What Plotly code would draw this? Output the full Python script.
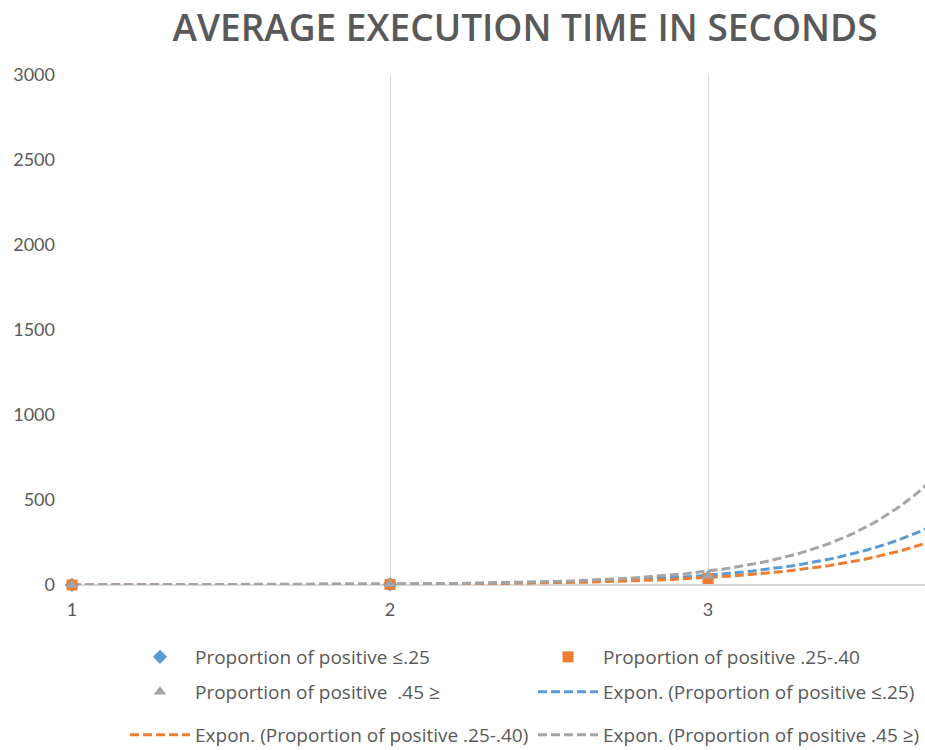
import numpy as np
import plotly.graph_objects as go

# Problem size index (category axis)
sizes = [1, 2, 3, 4]

# Average execution time (seconds) per proportion-of-positive group
low_prop = [0.4, 4.0, 45.0, 900.0]      # proportion of positive <= .25
mid_prop = [0.3, 3.5, 38.0, 600.0]      # proportion of positive .25-.40
high_prop = [0.3, 4.5, 55.0, 1900.0]    # proportion of positive .45 >=

series_names = [
    "Proportion of positive ≤.25",
    "Proportion of positive .25-.40",
    "Proportion of positive  .45 ≥",
]
trend_names = [
    "Expon. (Proportion of positive ≤.25)",
    "Expon. (Proportion of positive .25-.40)",
    "Expon. (Proportion of positive .45 ≥)",
]
y_ticks = [0, 500, 1000, 1500, 2000, 2500, 3000]
x_ticks = [1, 2, 3]

BLUE = "#5B9BD5"
ORANGE = "#ED7D31"
GRAY = "#A5A5A5"
TEXT = "#595959"
GRID = "#D9D9D9"
FONT = "Lato"

# plot area in pixels (used to place the legend rows)
PL, PR, PT, PB = 72, 925, 75, 585


def px_x(p):
    return (p - PL) / (PR - PL)


def px_y(q):
    return (PB - q) / (PB - PT)


def expon_trend(x, y):
    """Least-squares exponential trend y = a*exp(b*x) (fit on log y)."""
    b, ln_a = np.polyfit(np.asarray(x, float), np.log(np.asarray(y, float)), 1)
    xs = np.linspace(min(x), max(x), 200)
    return xs, np.exp(ln_a + b * xs)


fig = go.Figure()

data = [low_prop, mid_prop, high_prop]
colors = [BLUE, ORANGE, GRAY]
symbols = ["diamond", "square", "triangle-up"]
marker_legends = ["legend", "legend2", "legend3"]
trend_legends = ["legend4", "legend5", "legend6"]

# exponential trend lines
for vals, col, name, lg in zip(data, colors, trend_names, trend_legends):
    tx, ty = expon_trend(sizes, vals)
    fig.add_trace(go.Scatter(
        x=tx, y=ty, mode="lines", name=name, legend=lg,
        line=dict(color=col, width=3, dash="9px,4px"),
        hoverinfo="skip",
    ))

# measured averages
for vals, col, sym, name, lg in zip(data, colors, symbols, series_names, marker_legends):
    fig.add_trace(go.Scatter(
        x=sizes, y=vals, mode="markers", name=name, legend=lg,
        marker=dict(color=col, symbol=sym, size=11),
        cliponaxis=False,
    ))

leg_font = dict(family="Open Sans", size=19, color=TEXT)


def leg(text_x, row_y):
    return dict(
        orientation="h", xanchor="left", yanchor="middle",
        x=px_x(text_x - 70), y=px_y(row_y),
        font=leg_font, itemwidth=60, bgcolor="rgba(0,0,0,0)",
    )


fig.update_layout(
    width=925, height=750,
    margin=dict(l=PL, r=925 - PR, t=PT, b=750 - PB, autoexpand=False),
    paper_bgcolor="white", plot_bgcolor="white",
    title=dict(
        text="AVERAGE EXECUTION TIME IN SECONDS",
        x=525 / 925, xanchor="center", y=1 - 28 / 750, yanchor="middle",
        font=dict(family="Open Sans", size=37, color=TEXT, weight=600),
    ),
    xaxis=dict(
        range=[1, 3.682], tickvals=x_ticks, ticktext=[str(v) for v in x_ticks],
        showgrid=True, gridcolor=GRID, gridwidth=1,
        zeroline=False, showline=False, ticks="",
        tickfont=dict(family=FONT, size=18, color=TEXT),
        ticklabelstandoff=12,
    ),
    yaxis=dict(
        range=[0, 3000], tickvals=y_ticks,
        showgrid=False, zeroline=True, zerolinecolor=GRID, zerolinewidth=1.5,
        showline=False, ticks="",
        tickfont=dict(family=FONT, size=18, color=TEXT),
        ticklabelstandoff=16,
    ),
    legend=leg(195, 657),
    legend2=leg(603, 657),
    legend3=leg(195, 692),
    legend4=leg(603, 692),
    legend5=leg(195, 735),
    legend6=leg(603, 735),
    showlegend=True,
)

fig.write_html("out.html")
